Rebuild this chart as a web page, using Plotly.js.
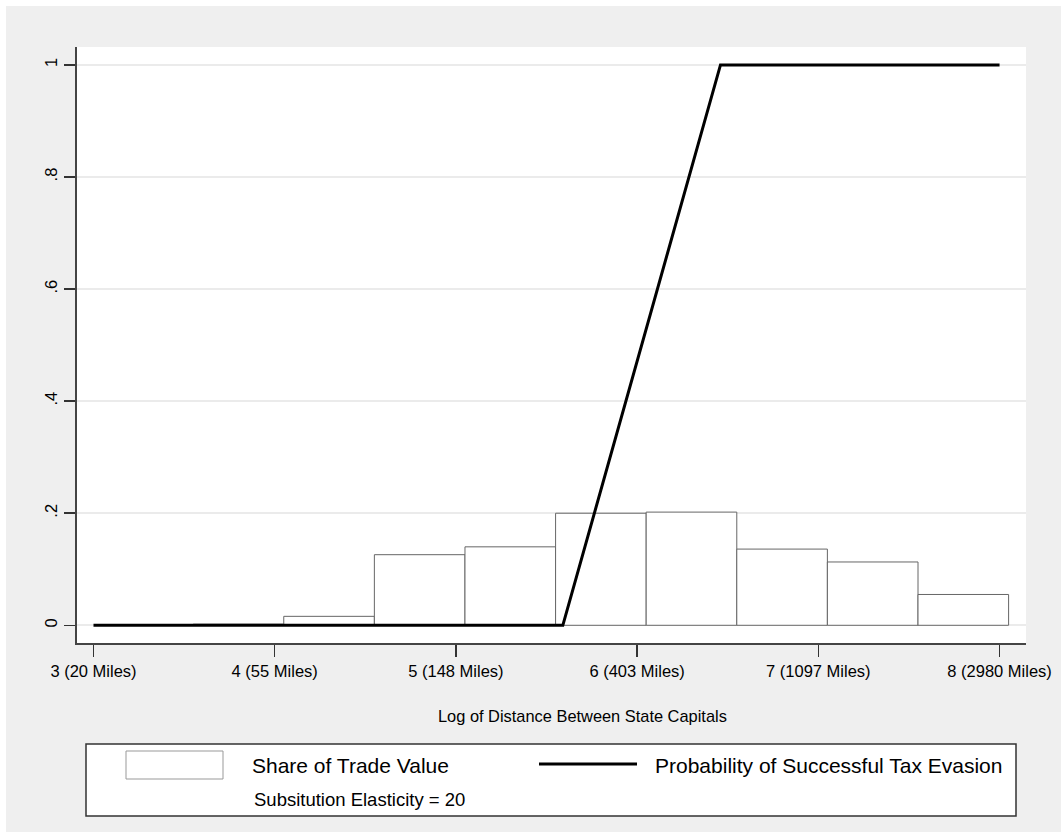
<!DOCTYPE html>
<html>
<head>
<meta charset="utf-8">
<script src="https://cdn.plot.ly/plotly-3.0.1.min.js"></script>
<style>
  html, body { margin: 0; padding: 0; background: #ffffff; }
  #chart { position: absolute; left: 6px; top: 6px; width: 1055px; height: 826px; }
</style>
</head>
<body>
<div id="chart"></div>
<script>
// ---- data ----
const binCenters = [3.3, 3.8, 4.3, 4.8, 5.3, 5.8, 6.3, 6.8, 7.3, 7.8];
const shareOfTrade = [0.0, 0.002, 0.016, 0.126, 0.140, 0.200, 0.202, 0.136, 0.113, 0.055];
const binWidth = 0.5;

const probX = [3, 5.59, 6.46, 8];
const probY = [0, 0, 1, 1];

const xTickVals = [3, 4, 5, 6, 7, 8];
const xTickText = ["3 (20 Miles)", "4 (55 Miles)", "5 (148 Miles)", "6 (403 Miles)", "7 (1097 Miles)", "8 (2980 Miles)"];
const yTickVals = [0, 0.2, 0.4, 0.6, 0.8, 1];
const yTickText = ["0", ".2", ".4", ".6", ".8", "1"];

const barName = "Share of Trade Value";
const lineName = "Probability of Successful Tax Evasion";
const noteText = "Subsitution Elasticity = 20";
const xTitle = "Log of Distance Between State Capitals";

// ---- layout geometry (page pixels) ----
const W = 1055, H = 826, offX = 6, offY = 6;
const M = { l: 71, r: 35, t: 41, b: 189 };
const plotL = offX + M.l, plotR = offX + W - M.r;
const plotT = offY + M.t, plotB = offY + H - M.b;
const px = x => (x - plotL) / (plotR - plotL);
const py = y => (plotB - y) / (plotB - plotT);

const FONT = "Arial, 'Liberation Sans', sans-serif";

const traces = [
  {
    type: "bar",
    x: binCenters,
    y: shareOfTrade,
    width: binCenters.map(() => binWidth),
    marker: { color: "#ffffff", line: { color: "#666666", width: 1 } },
    name: barName,
    hoverinfo: "x+y"
  },
  {
    type: "scatter",
    mode: "lines",
    x: probX,
    y: probY,
    line: { color: "#000000", width: 3 },
    name: lineName
  }
];

const layout = {
  width: W, height: H,
  margin: M,
  paper_bgcolor: "#efefef",
  plot_bgcolor: "#ffffff",
  showlegend: false,
  font: { family: FONT, color: "#000000", size: 16 },
  xaxis: {
    range: [2.909, 8.146],
    tickvals: xTickVals, ticktext: xTickText,
    ticks: "outside", ticklen: 12, tickwidth: 1.5, tickcolor: "#333333",
    showline: true, linecolor: "#444444", linewidth: 2,
    showgrid: false, zeroline: false,
    tickfont: { family: FONT, size: 16.5, color: "#000000" }
  },
  yaxis: {
    range: [-0.0316, 1.032],
    tickvals: yTickVals, ticktext: yTickText,
    tickangle: -90,
    ticks: "outside", ticklen: 11, tickwidth: 1.5, tickcolor: "#333333",
    showline: true, linecolor: "#444444", linewidth: 2,
    showgrid: true, gridcolor: "#ebebeb", gridwidth: 2,
    zeroline: false,
    tickfont: { family: FONT, size: 16.5, color: "#000000" }
  },
  shapes: [
    // legend frame
    { type: "rect", xref: "paper", yref: "paper", layer: "above",
      x0: px(86), x1: px(1016), y0: py(816), y1: py(744),
      line: { color: "#333333", width: 1.5 }, fillcolor: "#ffffff" },
    // bar swatch
    { type: "rect", xref: "paper", yref: "paper", layer: "above",
      x0: px(126), x1: px(223), y0: py(779), y1: py(751),
      line: { color: "#999999", width: 1 }, fillcolor: "#ffffff" },
    // line swatch
    { type: "line", xref: "paper", yref: "paper", layer: "above",
      x0: px(539), x1: px(637), y0: py(764), y1: py(764),
      line: { color: "#000000", width: 3 } }
  ],
  annotations: [
    { xref: "paper", yref: "paper", x: px(582), y: py(716), text: xTitle,
      showarrow: false, xanchor: "center", yanchor: "middle",
      font: { family: FONT, size: 16.4, color: "#000000" } },
    { xref: "paper", yref: "paper", x: px(250), y: py(765), text: barName,
      showarrow: false, xanchor: "left", yanchor: "middle",
      font: { family: FONT, size: 21, color: "#000000" } },
    { xref: "paper", yref: "paper", x: px(653), y: py(765), text: lineName,
      showarrow: false, xanchor: "left", yanchor: "middle",
      font: { family: FONT, size: 21, color: "#000000" } },
    { xref: "paper", yref: "paper", x: px(252), y: py(799), text: noteText,
      showarrow: false, xanchor: "left", yanchor: "middle",
      font: { family: FONT, size: 18.5, color: "#000000" } }
  ]
};

Plotly.newPlot("chart", traces, layout, { displayModeBar: false, staticPlot: true });
</script>
</body>
</html>
